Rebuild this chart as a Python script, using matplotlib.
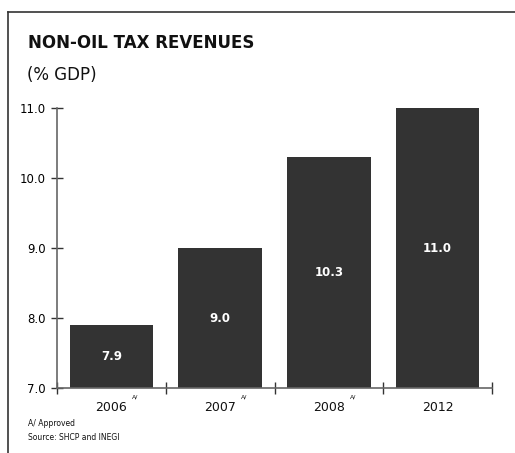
import matplotlib
matplotlib.use("Agg")
import matplotlib.pyplot as plt
from matplotlib.lines import Line2D
import numpy as np

# Non-oil tax revenues, % of GDP
years = ["2006", "2007", "2008", "2012"]
approved = [True, True, True, False]
revenues = [7.9, 9.0, 10.3, 11.0]
y_ticks = [7.0, 8.0, 9.0, 10.0, 11.0]

bar_color = "#333333"
axis_color = "#666666"

fig = plt.figure(figsize=(5.15, 4.53), dpi=100)
ax = fig.add_axes([57 / 515, 65 / 453, 435 / 515, 280 / 453])

x = np.arange(len(years)) + 0.5
base = 7.0
ax.bar(x, np.array(revenues) - base, bottom=base, width=0.77, color=bar_color, zorder=2)

# value labels in the middle of each bar
for xi, v in zip(x, revenues):
    ax.text(xi, (base + v) / 2, f"{v:.1f}", color="white", fontsize=8.5,
            fontweight="bold", ha="center", va="center", zorder=3)

ax.set_xlim(0, len(years))
ax.set_ylim(7.0, 11.0)

for side in ["top", "right"]:
    ax.spines[side].set_visible(False)
for side in ["left", "bottom"]:
    ax.spines[side].set_color(axis_color)
    ax.spines[side].set_linewidth(1.2)

ax.set_yticks(y_ticks)
ax.set_yticklabels([f"{t:.1f}" for t in y_ticks])
ax.tick_params(axis="y", direction="inout", length=8, width=1, color="#333333",
               labelsize=8.5, pad=4)

# category boundaries carry the ticks, labels go underneath
ax.set_xticks(np.arange(len(years) + 1))
ax.set_xticklabels([])
ax.tick_params(axis="x", direction="inout", length=8, width=1, color="#333333")
for xi, yr, a in zip(x, years, approved):
    ax.text(xi, -0.07, yr, transform=ax.get_xaxis_transform(), fontsize=9,
            ha="center", va="center", color="#111111")
    if a:
        ax.text(xi + 0.19, -0.033, "A/", transform=ax.get_xaxis_transform(),
                fontsize=4.5, ha="left", va="center", color="#111111")

# frame around the panel
fig.add_artist(Line2D([8 / 515, 1.0], [1 - 12 / 453, 1 - 12 / 453],
                      transform=fig.transFigure, color="#333333", lw=1.2))
fig.add_artist(Line2D([8 / 515, 8 / 515], [0, 1 - 12 / 453],
                      transform=fig.transFigure, color="#333333", lw=1.2))

fig.text(28 / 515, 1 - 43 / 453, "NON-OIL TAX REVENUES", fontsize=12,
         fontweight="bold", ha="left", va="center", color="#111111")
fig.text(27 / 515, 1 - 75 / 453, "(% GDP)", fontsize=12,
         ha="left", va="center", color="#111111")

fig.text(28 / 515, 1 - 424 / 453, "A/ Approved", fontsize=5.5,
         ha="left", va="center", color="#111111")
fig.text(28 / 515, 1 - 438 / 453, "Source: SHCP and INEGI", fontsize=5.5,
         ha="left", va="center", color="#111111")

fig.savefig("out.png", dpi=100, facecolor="white")
